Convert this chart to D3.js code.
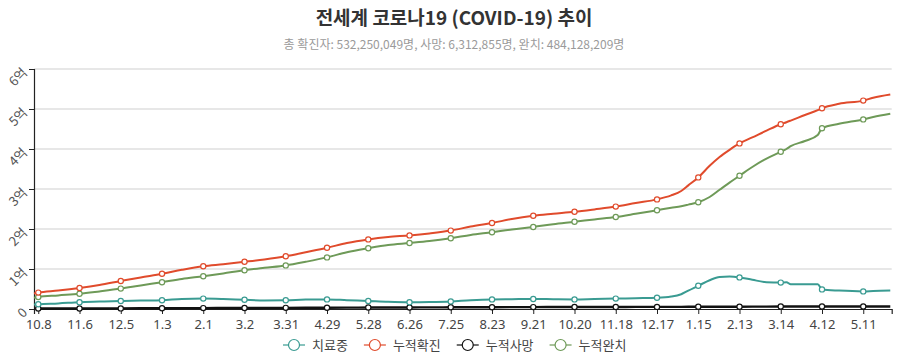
<!DOCTYPE html>
<html><head><meta charset="utf-8">
<script src="https://cdn.jsdelivr.net/npm/d3@7"></script>
<style>
body{margin:0;background:#fff;}
svg{display:block;font-family:"Noto Sans CJK KR","Noto Sans",sans-serif;}
</style></head>
<body><svg id="c" width="908" height="360"></svg>
<script>
const titleText = "전세계 코로나19 (COVID-19) 추이";
const subtitleText = "총 확진자: 532,250,049명, 사망: 6,312,855명, 완치: 484,128,209명";
const seriesNames = ["치료중","누적확진","누적사망","누적완치"];
const seriesColors = ["#3a9b92","#e04b2c","#111111","#6e9a58"];
const tickDates = ["2020-10-08","2020-11-06","2020-12-05","2021-01-03","2021-02-01","2021-03-02","2021-03-31","2021-04-29","2021-05-28","2021-06-26","2021-07-25","2021-08-23","2021-09-21","2021-10-20","2021-11-18","2021-12-17","2022-01-15","2022-02-13","2022-03-14","2022-04-12","2022-05-11"];
const yTickValues = [0,1,2,3,4,5,6];
const yTickLabels = ["0","1억","2억","3억","4억","5억","6억"];
const dates = ["2020-10-05","2020-10-08","2020-10-22","2020-11-06","2020-11-20","2020-12-05","2020-12-19","2021-01-03","2021-01-17","2021-02-01","2021-02-15","2021-03-02","2021-03-16","2021-03-31","2021-04-14","2021-04-29","2021-05-13","2021-05-28","2021-06-11","2021-06-26","2021-07-10","2021-07-25","2021-08-08","2021-08-23","2021-09-06","2021-09-21","2021-10-05","2021-10-20","2021-11-03","2021-11-18","2021-12-02","2021-12-17","2021-12-27","2022-01-03","2022-01-08","2022-01-15","2022-01-23","2022-01-30","2022-02-06","2022-02-13","2022-02-22","2022-03-04","2022-03-14","2022-03-18","2022-03-21","2022-03-31","2022-04-09","2022-04-12","2022-04-24","2022-05-11","2022-05-18","2022-05-30"];
// values in 억 (100M)
const active = [0.11,0.12,0.14,0.17,0.185,0.20,0.21,0.22,0.25,0.26,0.25,0.23,0.215,0.22,0.235,0.24,0.22,0.20,0.18,0.17,0.175,0.19,0.22,0.24,0.245,0.25,0.245,0.24,0.25,0.26,0.27,0.28,0.31,0.37,0.46,0.58,0.72,0.80,0.81,0.79,0.73,0.67,0.66,0.67,0.62,0.62,0.62,0.49,0.46,0.44,0.45,0.46];
const confirmed = [0.39,0.41,0.46,0.525,0.60,0.70,0.79,0.88,0.98,1.07,1.12,1.18,1.24,1.32,1.42,1.53,1.65,1.74,1.80,1.84,1.89,1.96,2.06,2.15,2.25,2.33,2.38,2.43,2.49,2.56,2.65,2.74,2.84,2.95,3.09,3.29,3.58,3.80,3.98,4.14,4.29,4.46,4.62,4.67,4.71,4.85,4.97,5.02,5.13,5.21,5.28,5.36];
const deaths = [0.010,0.011,0.011,0.012,0.013,0.015,0.017,0.019,0.021,0.022,0.024,0.026,0.027,0.029,0.030,0.032,0.034,0.036,0.038,0.039,0.041,0.042,0.043,0.045,0.046,0.048,0.049,0.050,0.050,0.051,0.052,0.053,0.054,0.054,0.055,0.055,0.056,0.057,0.058,0.058,0.059,0.060,0.061,0.061,0.061,0.062,0.062,0.062,0.062,0.063,0.063,0.063];
const recovered = [0.28,0.30,0.34,0.38,0.44,0.51,0.59,0.67,0.75,0.82,0.89,0.97,1.03,1.09,1.18,1.29,1.42,1.52,1.60,1.65,1.70,1.77,1.85,1.92,1.99,2.05,2.12,2.18,2.24,2.30,2.38,2.47,2.53,2.57,2.61,2.67,2.80,2.98,3.16,3.33,3.55,3.76,3.93,4.00,4.07,4.20,4.35,4.52,4.63,4.74,4.80,4.88];
const seriesValues = [active, confirmed, deaths, recovered];

const parse = d3.timeParse("%Y-%m-%d");
const svg = d3.select("#c");
const L = 34, R = 891.7, T = 69, B = 309;
const x = d3.scaleTime().domain([parse("2020-10-05"), parse("2022-05-31")]).range([L, R]);
const y = d3.scaleLinear().domain([0, 6]).range([B, T]);

svg.append("text").attr("x", 454).attr("y", 25).attr("text-anchor", "middle")
  .attr("font-size", 19).attr("font-weight", "bold").attr("fill", "#333").text(titleText);
svg.append("text").attr("x", 454).attr("y", 49).attr("text-anchor", "middle")
  .attr("font-size", 12).attr("fill", "#9a9a9a").text(subtitleText);

// grid
svg.append("g").selectAll("line").data(yTickValues.filter(v => v > 0)).join("line")
  .attr("x1", L).attr("x2", R).attr("y1", d => y(d)).attr("y2", d => y(d))
  .attr("stroke", "#cfcfcf").attr("stroke-width", 1);

// y axis
const yAxis = svg.append("g").attr("transform", `translate(${L},0)`)
  .call(d3.axisLeft(y).tickValues(yTickValues).tickSize(5).tickFormat((d, i) => yTickLabels[i]));
yAxis.select(".domain").attr("stroke", "#222").attr("stroke-width", 1.2);
yAxis.selectAll(".tick line").attr("stroke", "#222");
yAxis.selectAll(".tick text").attr("font-size", 13).attr("fill", "#555")
  .attr("font-family", "'Noto Sans CJK KR',sans-serif")
  .attr("text-anchor", "end").attr("x", 0).attr("dy", 0)
  .attr("transform", "translate(-6,4) rotate(-45)");

// x axis
const tickParsed = tickDates.map(parse);
const xAxis = svg.append("g").attr("transform", `translate(0,${B})`)
  .call(d3.axisBottom(x).tickValues(tickParsed).tickSize(5).tickSizeOuter(5).tickFormat(d3.timeFormat("%-m.%-d")));
xAxis.select(".domain").attr("stroke", "#222").attr("stroke-width", 1.2);
xAxis.selectAll(".tick line").attr("stroke", "#222");
xAxis.selectAll(".tick text").attr("font-size", 13).attr("fill", "#444")
  .attr("font-family", "'Noto Sans','Open Sans',sans-serif").attr("dy", "0.9em");

const pdates = dates.map(parse);
const tickSet = new Set(tickDates);
const line = d3.line().x((d, i) => x(pdates[i])).y(d => y(d)).curve(d3.curveMonotoneX);
const order = [2, 0, 3, 1];
order.forEach(si => {
  const g = svg.append("g");
  g.append("path").attr("d", line(seriesValues[si])).attr("fill", "none")
    .attr("stroke", seriesColors[si]).attr("stroke-width", si === 2 ? 2.4 : 2);
  g.selectAll("circle").data(seriesValues[si].map((v, i) => ({v, i})).filter(d => tickSet.has(dates[d.i])))
    .join("circle").attr("cx", d => x(pdates[d.i])).attr("cy", d => y(d.v)).attr("r", 2.6)
    .attr("fill", "#fff").attr("stroke", seriesColors[si]).attr("stroke-width", 1.2);
});

// legend
const lg = svg.append("g");
let lx = 283;
const ly = 345;
seriesNames.forEach((name, i) => {
  const it = lg.append("g");
  it.append("line").attr("x1", lx).attr("x2", lx + 22).attr("y1", ly).attr("y2", ly)
    .attr("stroke", seriesColors[i]).attr("stroke-width", 1.2);
  it.append("circle").attr("cx", lx + 11).attr("cy", ly).attr("r", 5.5)
    .attr("fill", "#fff").attr("stroke", seriesColors[i]).attr("stroke-width", 1.2);
  const t = it.append("text").attr("x", lx + 29).attr("y", ly + 4.5).attr("font-size", 13)
    .attr("fill", "#444").text(name);
  const w = t.node().getComputedTextLength();
  lx += 29 + w + 16;
});
</script></body></html>
